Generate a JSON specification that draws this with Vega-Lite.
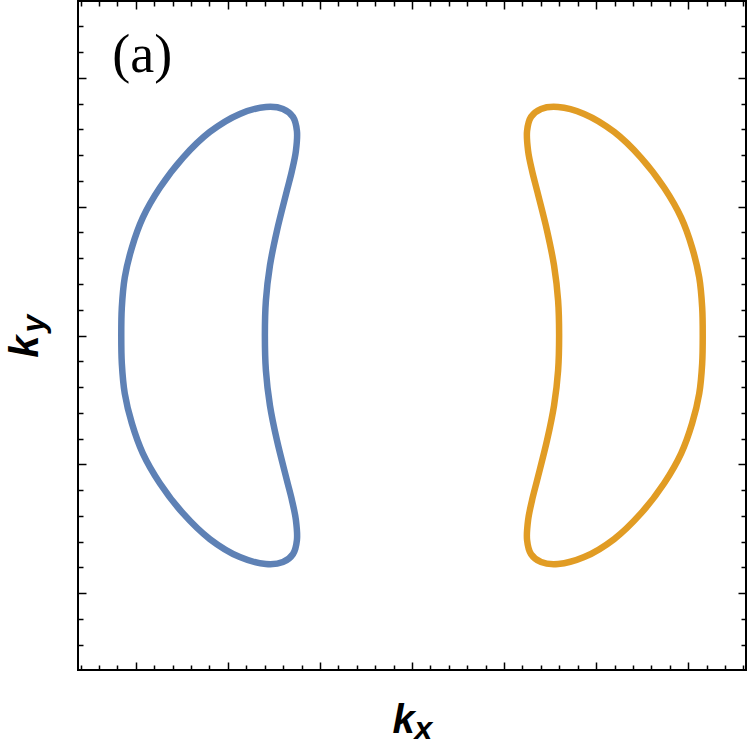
{
  "$schema": "https://vega.github.io/schema/vega-lite/v6.json",
  "width": 668,
  "height": 669,
  "autosize": "none",
  "padding": {"left": 78, "top": 1, "right": 4, "bottom": 76},
  "background": "white",
  "config": {
    "view": {"stroke": "black", "strokeWidth": 2},
    "axis": {"domain": false, "labels": false, "grid": false, "ticks": true, "tickColor": "black", "tickWidth": 1.5, "titleFont": "Liberation Sans", "titleFontWeight": "bold", "titleFontStyle": "italic", "titleColor": "black", "titleAlign": "center", "titleBaseline": "alphabetic"}
  },
  "data": {"values": [
    {"band": "A", "i": 0, "kx": -3.158, "ky": 0},
    {"band": "A", "i": 1, "kx": -3.152, "ky": 0.217},
    {"band": "A", "i": 2, "kx": -3.12, "ky": 0.45},
    {"band": "A", "i": 3, "kx": -3.043, "ky": 0.682},
    {"band": "A", "i": 4, "kx": -2.924, "ky": 0.915},
    {"band": "A", "i": 5, "kx": -2.739, "ky": 1.147},
    {"band": "A", "i": 6, "kx": -2.489, "ky": 1.38},
    {"band": "A", "i": 7, "kx": -2.196, "ky": 1.581},
    {"band": "A", "i": 8, "kx": -1.87, "ky": 1.721},
    {"band": "A", "i": 9, "kx": -1.587, "ky": 1.775},
    {"band": "A", "i": 10, "kx": -1.402, "ky": 1.76},
    {"band": "A", "i": 11, "kx": -1.293, "ky": 1.698},
    {"band": "A", "i": 12, "kx": -1.25, "ky": 1.589},
    {"band": "A", "i": 13, "kx": -1.261, "ky": 1.434},
    {"band": "A", "i": 14, "kx": -1.304, "ky": 1.279},
    {"band": "A", "i": 15, "kx": -1.359, "ky": 1.124},
    {"band": "A", "i": 16, "kx": -1.467, "ky": 0.814},
    {"band": "A", "i": 17, "kx": -1.543, "ky": 0.543},
    {"band": "A", "i": 18, "kx": -1.587, "ky": 0.271},
    {"band": "A", "i": 19, "kx": -1.598, "ky": 0},
    {"band": "A", "i": 20, "kx": -1.587, "ky": -0.271},
    {"band": "A", "i": 21, "kx": -1.543, "ky": -0.543},
    {"band": "A", "i": 22, "kx": -1.467, "ky": -0.814},
    {"band": "A", "i": 23, "kx": -1.359, "ky": -1.124},
    {"band": "A", "i": 24, "kx": -1.304, "ky": -1.279},
    {"band": "A", "i": 25, "kx": -1.261, "ky": -1.434},
    {"band": "A", "i": 26, "kx": -1.25, "ky": -1.589},
    {"band": "A", "i": 27, "kx": -1.293, "ky": -1.698},
    {"band": "A", "i": 28, "kx": -1.402, "ky": -1.76},
    {"band": "A", "i": 29, "kx": -1.587, "ky": -1.775},
    {"band": "A", "i": 30, "kx": -1.87, "ky": -1.721},
    {"band": "A", "i": 31, "kx": -2.196, "ky": -1.581},
    {"band": "A", "i": 32, "kx": -2.489, "ky": -1.38},
    {"band": "A", "i": 33, "kx": -2.739, "ky": -1.147},
    {"band": "A", "i": 34, "kx": -2.924, "ky": -0.915},
    {"band": "A", "i": 35, "kx": -3.043, "ky": -0.682},
    {"band": "A", "i": 36, "kx": -3.12, "ky": -0.45},
    {"band": "A", "i": 37, "kx": -3.152, "ky": -0.217},
    {"band": "A", "i": 38, "kx": -3.158, "ky": 0},
    {"band": "B", "i": 0, "kx": 3.158, "ky": 0},
    {"band": "B", "i": 1, "kx": 3.152, "ky": 0.217},
    {"band": "B", "i": 2, "kx": 3.12, "ky": 0.45},
    {"band": "B", "i": 3, "kx": 3.043, "ky": 0.682},
    {"band": "B", "i": 4, "kx": 2.924, "ky": 0.915},
    {"band": "B", "i": 5, "kx": 2.739, "ky": 1.147},
    {"band": "B", "i": 6, "kx": 2.489, "ky": 1.38},
    {"band": "B", "i": 7, "kx": 2.196, "ky": 1.581},
    {"band": "B", "i": 8, "kx": 1.87, "ky": 1.721},
    {"band": "B", "i": 9, "kx": 1.587, "ky": 1.775},
    {"band": "B", "i": 10, "kx": 1.402, "ky": 1.76},
    {"band": "B", "i": 11, "kx": 1.293, "ky": 1.698},
    {"band": "B", "i": 12, "kx": 1.25, "ky": 1.589},
    {"band": "B", "i": 13, "kx": 1.261, "ky": 1.434},
    {"band": "B", "i": 14, "kx": 1.304, "ky": 1.279},
    {"band": "B", "i": 15, "kx": 1.359, "ky": 1.124},
    {"band": "B", "i": 16, "kx": 1.467, "ky": 0.814},
    {"band": "B", "i": 17, "kx": 1.543, "ky": 0.543},
    {"band": "B", "i": 18, "kx": 1.587, "ky": 0.271},
    {"band": "B", "i": 19, "kx": 1.598, "ky": 0},
    {"band": "B", "i": 20, "kx": 1.587, "ky": -0.271},
    {"band": "B", "i": 21, "kx": 1.543, "ky": -0.543},
    {"band": "B", "i": 22, "kx": 1.467, "ky": -0.814},
    {"band": "B", "i": 23, "kx": 1.359, "ky": -1.124},
    {"band": "B", "i": 24, "kx": 1.304, "ky": -1.279},
    {"band": "B", "i": 25, "kx": 1.261, "ky": -1.434},
    {"band": "B", "i": 26, "kx": 1.25, "ky": -1.589},
    {"band": "B", "i": 27, "kx": 1.293, "ky": -1.698},
    {"band": "B", "i": 28, "kx": 1.402, "ky": -1.76},
    {"band": "B", "i": 29, "kx": 1.587, "ky": -1.775},
    {"band": "B", "i": 30, "kx": 1.87, "ky": -1.721},
    {"band": "B", "i": 31, "kx": 2.196, "ky": -1.581},
    {"band": "B", "i": 32, "kx": 2.489, "ky": -1.38},
    {"band": "B", "i": 33, "kx": 2.739, "ky": -1.147},
    {"band": "B", "i": 34, "kx": 2.924, "ky": -0.915},
    {"band": "B", "i": 35, "kx": 3.043, "ky": -0.682},
    {"band": "B", "i": 36, "kx": 3.12, "ky": -0.45},
    {"band": "B", "i": 37, "kx": 3.152, "ky": -0.217},
    {"band": "B", "i": 38, "kx": 3.158, "ky": 0}
  ]},
  "layer": [
    {
      "mark": {"type": "line", "interpolate": "catmull-rom", "strokeWidth": 6.5, "strokeJoin": "round"},
      "encoding": {
        "x": {
          "field": "kx", "type": "quantitative",
          "scale": {"domain": [-3.628, 3.628], "nice": false, "zero": false},
          "axis": {
            "orient": "bottom", "offset": -8, "tickSize": 8,
            "values": [-3, -2, -1, 0, 1, 2, 3],
            "title": "k", "titleFontSize": 40, "titleAngle": 0, "titleX": 325, "titleY": 70
          }
        },
        "y": {
          "field": "ky", "type": "quantitative",
          "scale": {"domain": [-2.598, 2.598], "nice": false, "zero": false},
          "axis": {
            "orient": "left", "offset": -8, "tickSize": 8,
            "values": [-2, -1, 0, 1, 2],
            "title": "k", "titleFontSize": 40, "titleAngle": 270, "titleX": -49, "titleY": 345
          }
        },
        "color": {"field": "band", "type": "nominal", "scale": {"domain": ["A", "B"], "range": ["#5E81B5", "#E19C24"]}, "legend": null},
        "order": {"field": "i", "type": "quantitative"}
      }
    },
    {
      "data": {"values": [{"label": "(a)"}]},
      "mark": {"type": "text", "font": "Liberation Serif", "fontSize": 54, "align": "center", "baseline": "alphabetic", "color": "black"},
      "encoding": {
        "text": {"field": "label", "type": "nominal"},
        "x": {
          "datum": -2.93, "type": "quantitative",
          "axis": {
            "orient": "top", "offset": -8, "tickSize": 8,
            "values": [-3, -2, -1, 0, 1, 2, 3],
            "title": "x", "titleFontSize": 32, "titleAngle": 0, "titleX": 345, "titleY": 729
          }
        },
        "y": {
          "datum": 2.047, "type": "quantitative",
          "axis": {
            "orient": "right", "offset": -8, "tickSize": 8,
            "values": [-2, -1, 0, 1, 2],
            "title": "y", "titleFontSize": 32, "titleAngle": 270, "titleX": -695, "titleY": 322
          }
        }
      }
    },
    {
      "data": {"values": [{"label": ""}]},
      "mark": {"type": "text"},
      "encoding": {
        "text": {"field": "label", "type": "nominal"},
        "x": {
          "datum": 0, "type": "quantitative",
          "axis": {
            "orient": "bottom", "offset": -5, "tickSize": 5, "title": null,
            "values": [-3.6,-3.4,-3.2,-2.8,-2.6,-2.4,-2.2,-1.8,-1.6,-1.4,-1.2,-0.8,-0.6,-0.4,-0.2,0.2,0.4,0.6,0.8,1.2,1.4,1.6,1.8,2.2,2.4,2.6,2.8,3.2,3.4,3.6]
          }
        },
        "y": {
          "datum": 0, "type": "quantitative",
          "axis": {
            "orient": "left", "offset": -5, "tickSize": 5, "title": null,
            "values": [-2.4,-2.2,-1.8,-1.6,-1.4,-1.2,-0.8,-0.6,-0.4,-0.2,0.2,0.4,0.6,0.8,1.2,1.4,1.6,1.8,2.2,2.4]
          }
        }
      }
    },
    {
      "data": {"values": [{"label": ""}]},
      "mark": {"type": "text"},
      "encoding": {
        "text": {"field": "label", "type": "nominal"},
        "x": {
          "datum": 0, "type": "quantitative",
          "axis": {
            "orient": "top", "offset": -5, "tickSize": 5, "title": null,
            "values": [-3.6,-3.4,-3.2,-2.8,-2.6,-2.4,-2.2,-1.8,-1.6,-1.4,-1.2,-0.8,-0.6,-0.4,-0.2,0.2,0.4,0.6,0.8,1.2,1.4,1.6,1.8,2.2,2.4,2.6,2.8,3.2,3.4,3.6]
          }
        },
        "y": {
          "datum": 0, "type": "quantitative",
          "axis": {
            "orient": "right", "offset": -5, "tickSize": 5, "title": null,
            "values": [-2.4,-2.2,-1.8,-1.6,-1.4,-1.2,-0.8,-0.6,-0.4,-0.2,0.2,0.4,0.6,0.8,1.2,1.4,1.6,1.8,2.2,2.4]
          }
        }
      }
    }
  ],
  "resolve": {"axis": {"x": "independent", "y": "independent"}}
}
